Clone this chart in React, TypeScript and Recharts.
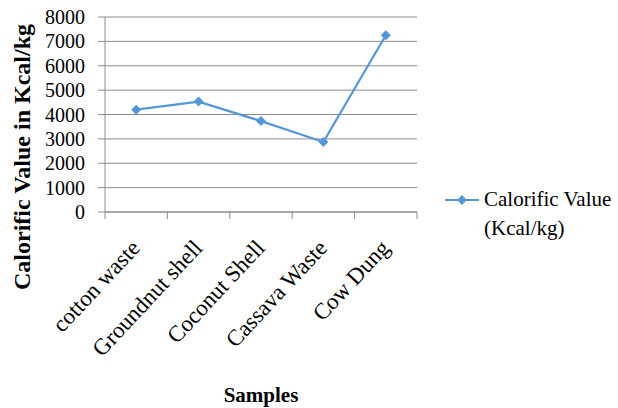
import { CartesianGrid, Line, LineChart, XAxis, YAxis } from "recharts";

const samples = ["cotton waste", "Groundnut shell", "Coconut Shell", "Cassava Waste", "Cow Dung"];
const calorificValues = [4200, 4530, 3730, 2870, 7250];
const valueTicks = [0, 1000, 2000, 3000, 4000, 5000, 6000, 7000, 8000];

const seriesName = "Calorific Value (Kcal/kg)";
const lineColor = "#5596d6";
const gridColor = "#8c8c8c";
const font = "'Liberation Serif', 'Times New Roman', serif";

const data = samples.map((name, i) => ({ name, value: calorificValues[i] }));

function Diamond({ cx, cy }: { cx?: number; cy?: number }) {
  if (cx == null || cy == null) return null;
  const r = 5;
  return (
    <path
      d={`M${cx},${cy - r} L${cx + r},${cy} L${cx},${cy + r} L${cx - r},${cy} Z`}
      fill={lineColor}
    />
  );
}

// category label plus the tick marks on the band edges
function SampleTick({ x, y, payload, index, width, visibleTicksCount }: any) {
  const half = width / visibleTicksCount / 2;
  const last = index === visibleTicksCount - 1;
  return (
    <g>
      <line x1={x - half} y1={y} x2={x - half} y2={y + 7} stroke={gridColor} />
      {last && <line x1={x + half} y1={y} x2={x + half} y2={y + 7} stroke={gridColor} />}
      <g transform={`translate(${x + 5},${y + 37})`}>
        <text
          transform="rotate(-47)"
          textAnchor="end"
          fontFamily={font}
          fontSize={23}
          fill="#000"
        >
          {payload.value}
        </text>
      </g>
    </g>
  );
}

function ValueTitle({ viewBox }: any) {
  const x = viewBox.x + 30;
  const y = 157;
  return (
    <text
      transform={`translate(${x},${y}) rotate(-90)`}
      textAnchor="middle"
      fontFamily={font}
      fontWeight="bold"
      fontSize={24}
      fill="#000"
    >
      Calorific Value in Kcal/kg
    </text>
  );
}

function SeriesLegend() {
  return (
    <div
      style={{
        position: "absolute",
        left: 445,
        top: 185,
        display: "flex",
        alignItems: "flex-start",
        fontFamily: font,
        fontSize: 21,
        lineHeight: "29px",
        color: "#000",
      }}
    >
      <svg width={34} height={29} style={{ marginRight: 5 }}>
        <line x1={0} y1={15} x2={34} y2={15} stroke={lineColor} strokeWidth={2} />
        <Diamond cx={17} cy={15} />
      </svg>
      <div style={{ width: 134 }}>{seriesName}</div>
    </div>
  );
}

export default function App() {
  return (
    <div style={{ position: "absolute", left: 0, top: 0, width: 618, height: 408, background: "#fff" }}>
      <LineChart
        width={618}
        height={408}
        data={data}
        margin={{ top: 17, right: 201, bottom: 0, left: 0 }}
      >
        <CartesianGrid vertical={false} stroke={gridColor} strokeWidth={1} />
        <XAxis
          dataKey="name"
          scale="band"
          interval={0}
          tickLine={false}
          tickSize={0}
          tickMargin={0}
          axisLine={{ stroke: gridColor }}
          tick={<SampleTick />}
          height={196}
          label={{
            value: "Samples",
            position: "insideBottom",
            offset: 6,
            fontFamily: font,
            fontWeight: "bold",
            fontSize: 21,
            fill: "#000",
          }}
        />
        <YAxis
          domain={[0, 8000]}
          ticks={valueTicks}
          interval={0}
          width={105}
          tickSize={7}
          tickMargin={13}
          tickLine={{ stroke: gridColor }}
          axisLine={{ stroke: gridColor }}
          tick={{ fontFamily: font, fontSize: 20, fill: "#000" }}
          label={<ValueTitle />}
        />
        <Line
          dataKey="value"
          name={seriesName}
          stroke={lineColor}
          strokeWidth={2.2}
          dot={<Diamond />}
          activeDot={false}
          isAnimationActive={false}
        />
      </LineChart>
      <SeriesLegend />
    </div>
  );
}
